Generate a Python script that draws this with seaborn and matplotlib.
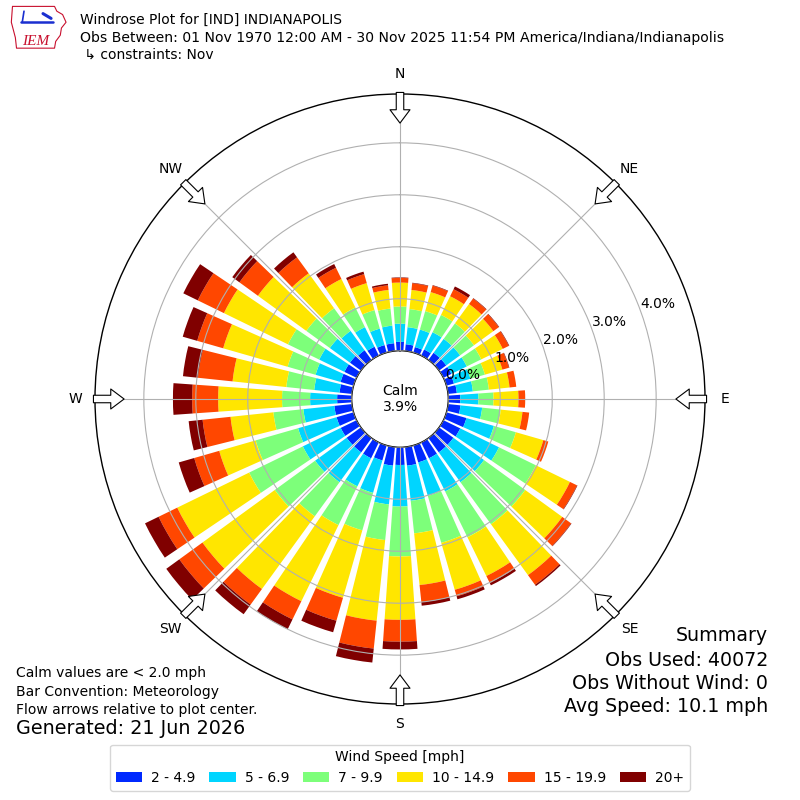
import numpy as np
import pandas as pd
import matplotlib
matplotlib.use('Agg')
import matplotlib.pyplot as plt
from matplotlib.patches import Patch
import seaborn as sns

# wind direction bins (degrees, where the wind comes from)
directions = list(range(0, 360, 10))
speed_labels = ['2 - 4.9', '5 - 6.9', '7 - 9.9', '10 - 14.9', '15 - 19.9', '20+']

# frequency (%) per direction for each speed bin
pct_2_5 = [0.17, 0.13, 0.11, 0.13, 0.17, 0.17, 0.17, 0.15, 0.17,
           0.23, 0.24, 0.40, 0.36, 0.34, 0.34, 0.34, 0.34, 0.36,
           0.34, 0.36, 0.30, 0.34, 0.34, 0.34, 0.34, 0.34, 0.34,
           0.28, 0.24, 0.26, 0.26, 0.26, 0.23, 0.19, 0.15, 0.15]
pct_5_7 = [0.35, 0.33, 0.35, 0.37, 0.33, 0.33, 0.33, 0.33, 0.31,
           0.35, 0.42, 0.55, 0.83, 0.73, 0.71, 0.71, 0.67, 0.68,
           0.80, 0.75, 0.65, 0.60, 0.71, 0.75, 0.81, 0.77, 0.60,
           0.52, 0.49, 0.50, 0.54, 0.48, 0.46, 0.42, 0.33, 0.34]
pct_7_10 = [0.33, 0.35, 0.37, 0.37, 0.37, 0.33, 0.31, 0.29, 0.31,
            0.29, 0.36, 0.44, 0.79, 0.98, 1.00, 0.98, 0.94, 0.63,
            0.96, 0.69, 0.75, 0.83, 0.81, 0.96, 1.15, 0.85, 0.58,
            0.54, 0.54, 0.56, 0.67, 0.56, 0.54, 0.42, 0.37, 0.33]
pct_10_15 = [0.46, 0.37, 0.38, 0.40, 0.46, 0.46, 0.46, 0.35, 0.40,
             0.48, 0.42, 0.55, 0.73, 0.88, 1.21, 0.83, 0.94, 1.00,
             1.22, 1.56, 1.35, 1.63, 1.73, 1.72, 1.54, 0.73, 0.83,
             1.23, 1.04, 1.29, 1.37, 1.15, 0.83, 0.61, 0.54, 0.36]
pct_15_20 = [0.09, 0.13, 0.13, 0.15, 0.13, 0.13, 0.13, 0.13, 0.13,
             0.13, 0.13, 0.10, 0.15, 0.21, 0.23, 0.15, 0.13, 0.33,
             0.42, 0.54, 0.46, 0.39, 0.37, 0.55, 0.40, 0.50, 0.54,
             0.50, 0.67, 0.52, 0.56, 0.44, 0.38, 0.24, 0.18, 0.09]
pct_20 = [0.01, 0.01, 0.01, 0.06, 0.01, 0.01, 0.01, 0.01, 0.00,
          0.00, 0.00, 0.00, 0.01, 0.01, 0.03, 0.05, 0.06, 0.07,
          0.15, 0.27, 0.23, 0.21, 0.23, 0.31, 0.29, 0.31, 0.27,
          0.37, 0.29, 0.29, 0.31, 0.17, 0.12, 0.08, 0.05, 0.03]

calm_pct = 3.9
compass = ['N', 'NE', 'E', 'SE', 'S', 'SW', 'W', 'NW']
rticks = [0, 1, 2, 3, 4]

df = pd.DataFrame({'direction': directions})
for lab, vals in zip(speed_labels, [pct_2_5, pct_5_7, pct_7_10, pct_10_15, pct_15_20, pct_20]):
    df[lab] = vals

sns.set_theme(style='white')
plt.rcParams['font.family'] = ['DejaVu Sans']
plt.rcParams['text.color'] = 'black'
plt.rcParams['xtick.color'] = 'black'
plt.rcParams['ytick.color'] = 'black'

fig = plt.figure(figsize=(8, 8), dpi=100)
ax = fig.add_axes([0.11875, 0.12, 0.7625, 0.7625], projection='polar')
ax.set_theta_zero_location('N')
ax.set_theta_direction(-1)

colors = plt.get_cmap('jet')(np.arange(1, 7) / 6.0)
theta = np.deg2rad(df['direction'].values)
width = np.deg2rad(10) * 0.8
bottom = np.zeros(len(df))
for lab, c in zip(speed_labels, colors):
    ax.bar(theta, df[lab].values, width=width, bottom=bottom, color=c,
           linewidth=0, zorder=1)
    bottom += df[lab].values

rmax = 4.94
ax.set_ylim(0, rmax)
ax.set_rorigin(-0.93)
ax.set_axisbelow(False)
ax.set_yticks(rticks)
ax.set_yticklabels(['%.1f%%' % v for v in rticks], fontsize=10, color='black')
ax.set_rlabel_position(70)
ax.set_xticks(np.deg2rad(np.arange(0, 360, 45)))
ax.set_xticklabels([])
ax.grid(True, color='#b0b0b0', lw=0.8)
for sp in ax.spines.values():
    sp.set_color('black')
    sp.set_linewidth(1.0)

# compass labels and inward flow arrows
for i, name in enumerate(compass):
    t = np.deg2rad(i * 45)
    ax.text(t, 5.32, name, ha='center', va='center', fontsize=10)
    ax.annotate('', xy=(t, 4.38), xytext=(t, 4.97),
                arrowprops=dict(arrowstyle='simple,head_length=0.8,head_width=1.2,tail_width=0.45',
                                fc='white', ec='black', lw=0.8, shrinkA=0, shrinkB=0,
                                mutation_scale=12),
                annotation_clip=False, zorder=5)

ax.text(0, -0.93, 'Calm\n%.1f%%' % calm_pct, ha='center', va='center', fontsize=10)

# header
fig.text(0.1, 0.975, 'Windrose Plot for [IND] INDIANAPOLIS', fontsize=10, va='center')
fig.text(0.1, 0.953, 'Obs Between: 01 Nov 1970 12:00 AM - 30 Nov 2025 11:54 PM America/Indiana/Indianapolis',
         fontsize=10.1, va='center')
fig.text(0.1, 0.932, ' \u21b3 constraints: Nov', fontsize=10, va='center')

# logo
lax = fig.add_axes([0.012, 0.935, 0.072, 0.06])
lax.set_xlim(0, 1)
lax.set_ylim(0, 1)
lax.axis('off')
lax.plot([0.05, 0.78, 0.82, 0.92, 0.98, 0.9, 0.88, 0.8, 0.78, 0.12, 0.1, 0.03, 0.05],
         [0.95, 0.95, 0.85, 0.78, 0.62, 0.5, 0.35, 0.22, 0.08, 0.08, 0.3, 0.62, 0.95],
         color='#c8102e', lw=0.8)
lax.plot([0.2, 0.75], [0.62, 0.62], color='#1a2fd0', lw=1.8)
lax.plot([0.25, 0.22], [0.85, 0.62], color='#1a2fd0', lw=1.2)
lax.plot([0.58, 0.72], [0.8, 0.7], color='#1a2fd0', lw=2.2)
lax.text(0.45, 0.22, 'IEM', color='#c8102e', fontsize=11, style='italic',
         family='Liberation Serif', ha='center', va='center')

# summary block
fig.text(0.96, 0.206, 'Summary', fontsize=13.7, ha='right', va='center')
fig.text(0.96, 0.175, 'Obs Used: 40072', fontsize=13.7, ha='right', va='center')
fig.text(0.96, 0.146, 'Obs Without Wind: 0', fontsize=13.7, ha='right', va='center')
fig.text(0.96, 0.1175, 'Avg Speed: 10.1 mph', fontsize=13.7, ha='right', va='center')

fig.text(0.02, 0.159, 'Calm values are < 2.0 mph', fontsize=10, va='center')
fig.text(0.02, 0.135, 'Bar Convention: Meteorology', fontsize=10, va='center')
fig.text(0.02, 0.1125, 'Flow arrows relative to plot center.', fontsize=10, va='center')
fig.text(0.02, 0.089, 'Generated: 21 Jun 2026', fontsize=13.8, va='center')

handles = [Patch(facecolor=c, edgecolor='none') for c in colors]
leg = fig.legend(handles, speed_labels, loc='lower center', bbox_to_anchor=(0.5, 0.003),
                 ncol=6, title='Wind Speed [mph]', fontsize=10, title_fontsize=10,
                 frameon=True, fancybox=True, handlelength=1.9, handletextpad=0.65,
                 columnspacing=1.0)
leg.get_frame().set_edgecolor('#cccccc')

fig.savefig('out.png', dpi=100)
